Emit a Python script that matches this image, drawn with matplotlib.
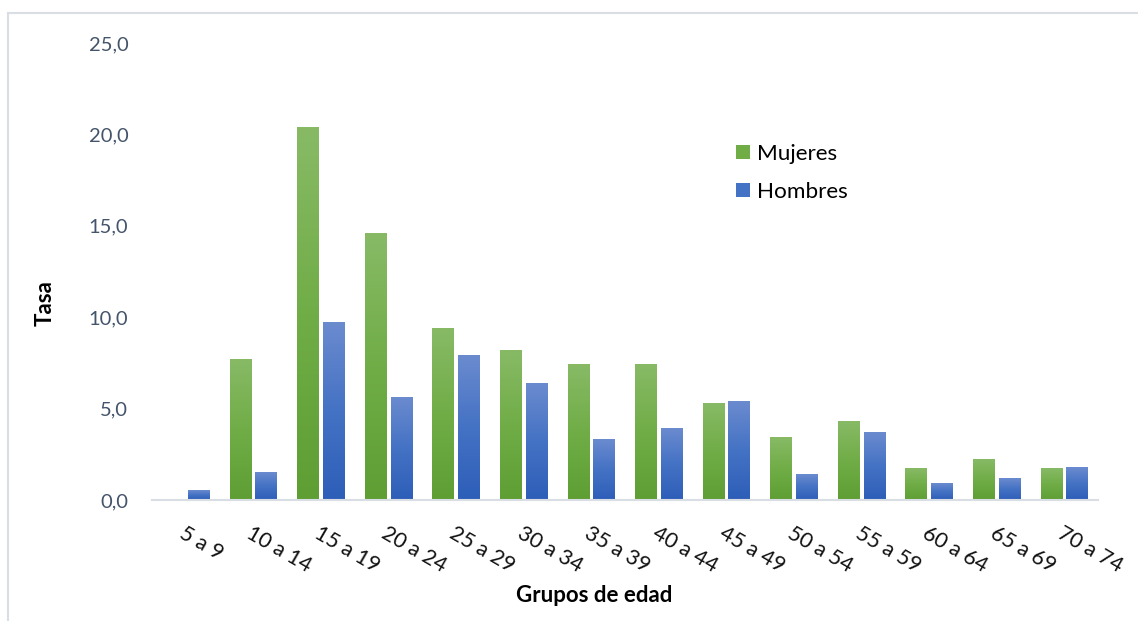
import numpy as np
import matplotlib
matplotlib.use("Agg")
import matplotlib.pyplot as plt
from matplotlib.colors import LinearSegmentedColormap
from matplotlib.patches import Patch
from matplotlib.lines import Line2D

categories = ["5 a 9", "10 a 14", "15 a 19", "20 a 24", "25 a 29", "30 a 34", "35 a 39",
              "40 a 44", "45 a 49", "50 a 54", "55 a 59", "60 a 64", "65 a 69", "70 a 74"]
mujeres = [0.0, 7.7, 20.4, 14.6, 9.4, 8.2, 7.4, 7.4, 5.3, 3.4, 4.3, 1.7, 2.2, 1.7]
hombres = [0.5, 1.5, 9.7, 5.6, 7.9, 6.4, 3.3, 3.9, 5.4, 1.4, 3.7, 0.9, 1.2, 1.8]
yticks = [0, 5, 10, 15, 20, 25]
ytick_labels = ["0,0", "5,0", "10,0", "15,0", "20,0", "25,0"]

FONT = ["Lato", "DejaVu Sans"]
plt.rcParams["font.family"] = FONT

W, H = 1138, 621
fig = plt.figure(figsize=(W / 100, H / 100), dpi=100)
ax = fig.add_axes([152 / W, 1 - 500 / H, (1098 - 152) / W, (500 - 43) / H])

green_cmap = LinearSegmentedColormap.from_list("g", ["#5E9E33", "#70AD47", "#88BA66"])
blue_cmap = LinearSegmentedColormap.from_list("b", ["#2D5EB8", "#4472C4", "#6B8BCF"])

x = np.arange(len(categories))
bw = 0.32
off = 0.19
bars_m = ax.bar(x - off, mujeres, bw, color="#70AD47", zorder=2)
bars_h = ax.bar(x + off, hombres, bw, color="#4472C4", zorder=2)

grad = np.linspace(0, 1, 256).reshape(-1, 1)
for bars, cmap in ((bars_m, green_cmap), (bars_h, blue_cmap)):
    for p in bars:
        h = p.get_height()
        if h <= 0:
            continue
        x0 = p.get_x()
        ax.imshow(grad, extent=[x0, x0 + p.get_width(), 0, h], origin="lower",
                  aspect="auto", cmap=cmap, zorder=3, interpolation="bilinear")

ax.set_xlim(-0.5, len(categories) - 0.5)
ax.set_ylim(0, 25)
ax.set_yticks(yticks)
ax.set_yticklabels(ytick_labels)
ax.set_xticks(x)
ax.set_xticklabels(categories, rotation=-30, ha="left", va="top", rotation_mode="anchor")
ax.tick_params(axis="y", length=0, pad=17, labelsize=14.5, labelcolor="#44546A")
ax.tick_params(axis="x", length=0, pad=17, labelsize=15.5, labelcolor="#111111")
for s in ("top", "right", "left"):
    ax.spines[s].set_visible(False)
ax.spines["bottom"].set_color("#D9DEE4")
ax.spines["bottom"].set_linewidth(1.5)
ax.spines["bottom"].set_zorder(4)

fig.text(45 / W, 1 - 303 / H, "Tasa", rotation=90, ha="center", va="center",
         fontsize=16, fontweight="bold", color="#000000")
fig.text(594 / W, 1 - 595 / H, "Grupos de edad", ha="center", va="center",
         fontsize=16, fontweight="bold", color="#000000")

handles = [Patch(facecolor="#70AD47"), Patch(facecolor="#4472C4")]
fig.legend(handles, ["Mujeres", "Hombres"], loc="upper left",
           bbox_to_anchor=(736 / W, 1 - 144 / H), frameon=False, fontsize=16.2,
           borderaxespad=0, borderpad=0,
           handlelength=0.62, handleheight=0.62, handletextpad=0.3, labelspacing=0.8)

# outer chart frame (left and top edges)
fig.add_artist(Line2D([8 / W, 8 / W], [0, 1 - 13 / H], color="#D9DEE4", lw=1.5))
fig.add_artist(Line2D([8 / W, 1], [1 - 13 / H, 1 - 13 / H], color="#D9DEE4", lw=1.5))

fig.savefig("out.png", dpi=100)
